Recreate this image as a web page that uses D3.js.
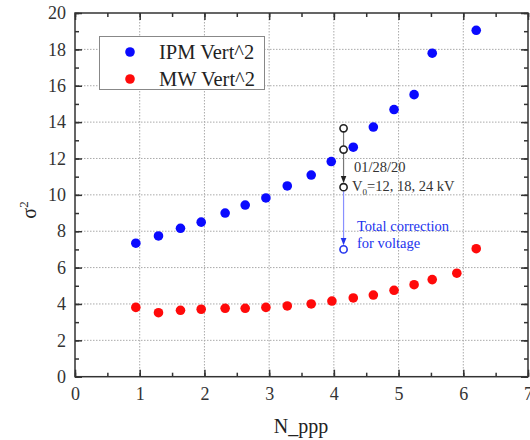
<!DOCTYPE html>
<html><head><meta charset="utf-8">
<script src="https://cdn.jsdelivr.net/npm/d3@7"></script>
<style>body{margin:0;background:#fff}svg{display:block}
text{font-family:'Liberation Serif','Times New Roman',serif}</style>
</head><body>
<svg id="c" width="530" height="440"></svg>
<script>
const ipmX = [0.94,1.29,1.63,1.95,2.32,2.63,2.95,3.28,3.65,3.96,4.30,4.61,4.93,5.24,5.52,6.20];
const ipmY = [7.34,7.74,8.16,8.50,9.00,9.44,9.83,10.49,11.09,11.83,12.62,13.73,14.69,15.51,17.79,19.05];
const mwX = [0.94,1.29,1.63,1.95,2.32,2.63,2.95,3.28,3.65,3.97,4.30,4.61,4.93,5.24,5.52,5.90,6.20];
const mwY = [3.81,3.52,3.65,3.71,3.76,3.76,3.81,3.89,4.00,4.16,4.33,4.49,4.75,5.06,5.34,5.69,7.04];
const xTicks = [0,1,2,3,4,5,6,7];
const yTicks = [0,2,4,6,8,10,12,14,16,18,20];
const corrX = 4.15;
const corrBlack = [13.66,12.49,10.42];
const corrBlue = 7.0;
const seriesNames = ["IPM Vert^2","MW Vert^2"];

const svg = d3.select("#c");
const L=75,R=528,T=13,B=376.7;
const x = d3.scaleLinear().domain([0,7]).range([L,R]);
const y = d3.scaleLinear().domain([0,20]).range([B,T]);
const font = "'Liberation Serif','Times New Roman',serif";
const axCol = "#333";

// grid
const g = svg.append("g");
g.selectAll(".gx").data(xTicks.slice(1,-1)).join("line")
  .attr("x1",d=>x(d)).attr("x2",d=>x(d)).attr("y1",T).attr("y2",B)
  .attr("stroke","#aaa").attr("stroke-width",1).attr("stroke-dasharray","1.5,1.5");
g.selectAll(".gy").data(yTicks.slice(1,-1)).join("line")
  .attr("y1",d=>y(d)).attr("y2",d=>y(d)).attr("x1",L).attr("x2",R)
  .attr("stroke","#aaa").attr("stroke-width",1).attr("stroke-dasharray","1.5,1.5");

// axes (ticks inward on all sides)
const minorX = d3.range(0,7.01,0.5);
const minorY = d3.range(0,20.01,1);
function styleAxis(sel){
  sel.attr("font-family",font);
  sel.select(".domain").remove();
  sel.selectAll("line").attr("stroke",axCol).attr("stroke-width",1.5);
  sel.selectAll("text").attr("font-family",font).style("font-family",font)
    .attr("font-size",18).attr("fill",axCol);
}
svg.append("g").attr("transform",`translate(0,${B})`)
  .call(d3.axisBottom(x).tickValues(minorX).tickSize(-4).tickFormat(""))
  .call(styleAxis);
svg.append("g").attr("transform",`translate(0,${B})`)
  .call(d3.axisBottom(x).tickValues(xTicks).tickSize(-7).tickPadding(11).tickFormat(d3.format("d")))
  .call(styleAxis);
svg.append("g").attr("transform",`translate(0,${T})`)
  .call(d3.axisTop(x).tickValues(minorX).tickSize(-4).tickFormat(""))
  .call(styleAxis);
svg.append("g").attr("transform",`translate(0,${T})`)
  .call(d3.axisTop(x).tickValues(xTicks).tickSize(-7).tickFormat(""))
  .call(styleAxis);
svg.append("g").attr("transform",`translate(${L},0)`)
  .call(d3.axisLeft(y).tickValues(minorY).tickSize(-4).tickFormat(""))
  .call(styleAxis);
svg.append("g").attr("transform",`translate(${L},0)`)
  .call(d3.axisLeft(y).tickValues(yTicks).tickSize(-7).tickPadding(9).tickFormat(d3.format("d")))
  .call(styleAxis);
svg.append("g").attr("transform",`translate(${R},0)`)
  .call(d3.axisRight(y).tickValues(minorY).tickSize(-4).tickFormat(""))
  .call(styleAxis);
svg.append("g").attr("transform",`translate(${R},0)`)
  .call(d3.axisRight(y).tickValues(yTicks).tickSize(-7).tickFormat(""))
  .call(styleAxis);

svg.append("rect").attr("x",L).attr("y",T).attr("width",R-L).attr("height",B-T)
  .attr("fill","none").attr("stroke",axCol).attr("stroke-width",1.5);

// axis titles
svg.append("text").attr("x",301).attr("y",433).attr("text-anchor","middle")
  .attr("font-family",font).attr("font-size",20).attr("fill","#222").text("N_ppp");
const yl = svg.append("text").attr("transform","translate(36,210) rotate(-90)")
  .attr("text-anchor","middle").attr("font-family",font).attr("font-size",20).attr("fill","#222");
yl.append("tspan").text("σ");
yl.append("tspan").attr("dy",-8).attr("font-size",13).text("2");

// correction annotation
svg.append("defs").html(`
<marker id="ab" viewBox="0 0 10 10" refX="9" refY="5" markerWidth="6" markerHeight="6" orient="auto"><path d="M0,1L10,5L0,9z" fill="#222"/></marker>
<marker id="au" viewBox="0 0 10 10" refX="9" refY="5" markerWidth="6" markerHeight="6" orient="auto"><path d="M0,1L10,5L0,9z" fill="#2233ee"/></marker>`);
svg.append("line").attr("x1",x(corrX)).attr("x2",x(corrX))
  .attr("y1",y(corrBlack[0])).attr("y2",y(corrBlack[2])-5)
  .attr("stroke","#777").attr("stroke-width",1.2).attr("marker-end","url(#ab)");
svg.append("line").attr("x1",x(corrX)).attr("x2",x(corrX))
  .attr("y1",y(corrBlack[2])+4).attr("y2",y(corrBlue)-5)
  .attr("stroke","#8890ff").attr("stroke-width",1.2).attr("marker-end","url(#au)");
svg.selectAll(".cb").data(corrBlack).join("circle")
  .attr("cx",x(corrX)).attr("cy",d=>y(d)).attr("r",3.6)
  .attr("fill","#fff").attr("stroke","#222").attr("stroke-width",1.6);
svg.append("circle").attr("cx",x(corrX)).attr("cy",y(corrBlue)).attr("r",3.6)
  .attr("fill","#fff").attr("stroke","#2233ee").attr("stroke-width",1.6);

// data points
svg.selectAll(".ipm").data(ipmX).join("circle")
  .attr("cx",d=>x(d)).attr("cy",(d,i)=>y(ipmY[i])).attr("r",4.8).attr("fill","#0a0aff");
svg.selectAll(".mw").data(mwX).join("circle")
  .attr("cx",d=>x(d)).attr("cy",(d,i)=>y(mwY[i])).attr("r",4.8).attr("fill","#ff0a0a");

// annotation text
svg.append("text").attr("x",354).attr("y",172).attr("font-family",font).attr("font-size",14.5).attr("fill","#333").text("01/28/20");
const vt = svg.append("text").attr("x",352).attr("y",191).attr("font-family",font).attr("font-size",14.5).attr("fill","#333");
vt.append("tspan").text("V");
vt.append("tspan").attr("dy",4).attr("font-size",9).text("0");
vt.append("tspan").attr("dy",-4).text("=12, 18, 24 kV");
svg.append("text").attr("x",357).attr("y",231).attr("font-family",font).attr("font-size",14.5).attr("fill","#2233ee").text("Total correction");
svg.append("text").attr("x",357).attr("y",248).attr("font-family",font).attr("font-size",14.5).attr("fill","#2233ee").text("for voltage");

// legend
svg.append("rect").attr("x",99.5).attr("y",36.5).attr("width",165).attr("height",53)
  .attr("fill","#fff").attr("stroke","#888").attr("stroke-width",1);
const cols = ["#0a0aff","#ff0a0a"];
seriesNames.forEach((n,i)=>{
  svg.append("circle").attr("cx",130).attr("cy",52+i*27).attr("r",4.8).attr("fill",cols[i]);
  svg.append("text").attr("x",159).attr("y",59+i*27).attr("font-family",font).attr("font-size",20.5).attr("fill","#222").text(n);
});
</script>
</body></html>
